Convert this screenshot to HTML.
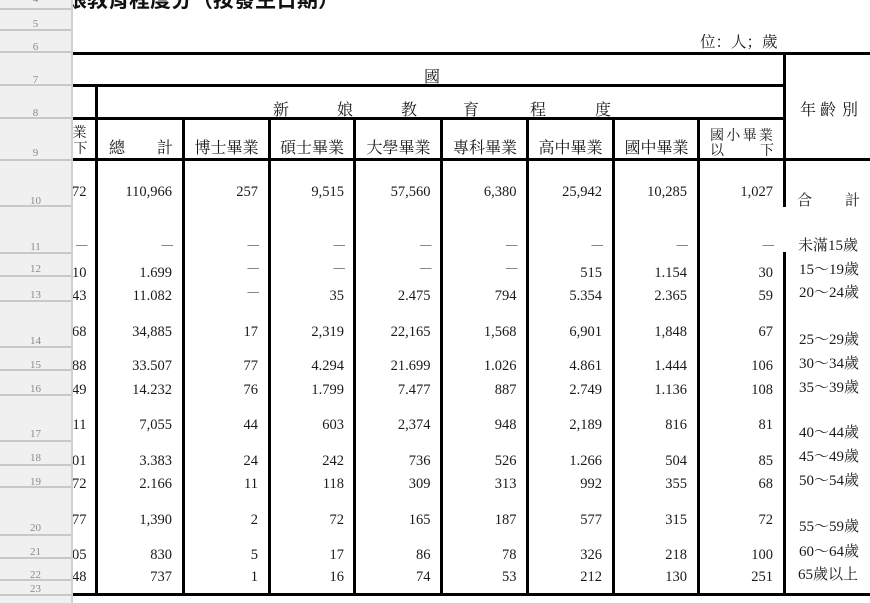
<!DOCTYPE html>
<html><head><meta charset="utf-8">
<style>
body{margin:0;background:#fff;}
#c{position:relative;width:870px;height:603px;overflow:hidden;background:#fff;font-family:"Liberation Serif","Noto Serif CJK SC",serif;color:#1a1a1a;}
.t{position:absolute;white-space:nowrap;line-height:16px;font-size:16px;}
.a{position:absolute;white-space:nowrap;line-height:16px;font-size:15px;}
.n{position:absolute;white-space:nowrap;line-height:16px;font-size:14.5px;text-align:right;}
.d{position:absolute;white-space:nowrap;line-height:12px;font-size:11.5px;text-align:right;color:#333;}
.L{position:absolute;background:#000;}
#p{position:absolute;left:0;top:0;width:71px;height:603px;background:#f0f0f0;border-right:2px solid #d0d0d0;z-index:5;}
.s{position:absolute;left:0;width:71px;height:2px;background:#c8c8c8;}
.r{position:absolute;left:0;width:71px;text-align:center;font-size:11px;line-height:12px;color:#8a8a8a;font-family:"Liberation Serif",serif;}
</style></head><body><div id="c">

<!-- title -->
<div style="position:absolute;left:66px;top:-10px;font-family:'Liberation Sans','Noto Sans CJK TC',sans-serif;font-weight:bold;font-size:21px;line-height:21px;white-space:nowrap;color:#111;">娘教育程度分（按發生日期）</div>

<div class="t" style="left:700px;top:35px;font-size:15.5px;">位：人；歲</div>
<div class="t" style="left:424px;top:69.5px;">國</div>

<!-- row 8 -->
<div class="t" style="left:273px;top:102.5px;">新</div>
<div class="t" style="left:337px;top:102.5px;">娘</div>
<div class="t" style="left:401px;top:102.5px;">教</div>
<div class="t" style="left:463px;top:102.5px;">育</div>
<div class="t" style="left:530px;top:102.5px;">程</div>
<div class="t" style="left:595px;top:102.5px;">度</div>
<div class="t" style="left:800px;top:102.5px;">年</div>
<div class="t" style="left:820px;top:102.5px;">齡</div>
<div class="t" style="left:842px;top:102.5px;">別</div>

<!-- row 9 headers -->
<div class="t" style="left:72.5px;top:126px;font-size:14px;">業</div>
<div class="t" style="left:73.5px;top:142px;font-size:14px;">下</div>
<div class="t" style="left:109px;top:140.5px;">總</div>
<div class="t" style="left:157px;top:140.5px;">計</div>
<div class="t" style="left:185px;width:83px;text-align:center;top:140.5px;">博士畢業</div>
<div class="t" style="left:271px;width:82px;text-align:center;top:140.5px;">碩士畢業</div>
<div class="t" style="left:357px;width:83px;text-align:center;top:140.5px;">大學畢業</div>
<div class="t" style="left:443px;width:84px;text-align:center;top:140.5px;">專科畢業</div>
<div class="t" style="left:529px;width:83px;text-align:center;top:140.5px;">高中畢業</div>
<div class="t" style="left:615px;width:83px;text-align:center;top:140.5px;">國中畢業</div>
<div class="t" style="left:710px;top:129px;font-size:14px;letter-spacing:2.3px;">國小畢業</div>
<div class="t" style="left:710px;top:144px;font-size:14px;">以</div>
<div class="t" style="left:760px;top:144px;font-size:14px;">下</div>

<!-- age labels -->
<div class="a" style="left:797px;top:193px;">合</div>
<div class="a" style="left:845px;top:193px;">計</div>
<div class="a" style="left:798px;top:238px;">未滿15歲</div>
<div class="a" style="left:799px;top:262px;">15～19歲</div>
<div class="a" style="left:799px;top:285px;">20～24歲</div>
<div class="a" style="left:799px;top:332px;">25～29歲</div>
<div class="a" style="left:799px;top:356px;">30～34歲</div>
<div class="a" style="left:799px;top:380px;">35～39歲</div>
<div class="a" style="left:799px;top:425px;">40～44歲</div>
<div class="a" style="left:799px;top:449px;">45～49歲</div>
<div class="a" style="left:799px;top:473px;">50～54歲</div>
<div class="a" style="left:799px;top:519px;">55～59歲</div>
<div class="a" style="left:799px;top:544px;">60～64歲</div>
<div class="a" style="left:798px;top:567px;">65歲以上</div>

<!-- data: row 10 (top 184) -->
<div class="n" style="right:783.5px;top:184px;">72</div>
<div class="n" style="right:698px;top:184px;">110,966</div>
<div class="n" style="right:612px;top:184px;">257</div>
<div class="n" style="right:526px;top:184px;">9,515</div>
<div class="n" style="right:439.5px;top:184px;">57,560</div>
<div class="n" style="right:353.5px;top:184px;">6,380</div>
<div class="n" style="right:268px;top:184px;">25,942</div>
<div class="n" style="right:183px;top:184px;">10,285</div>
<div class="n" style="right:97px;top:184px;">1,027</div>

<!-- row 11 dashes -->
<div class="d" style="right:782.5px;top:238.5px;">—</div>
<div class="d" style="right:697px;top:238.5px;">—</div>
<div class="d" style="right:611px;top:238.5px;">—</div>
<div class="d" style="right:525px;top:238.5px;">—</div>
<div class="d" style="right:438.5px;top:238.5px;">—</div>
<div class="d" style="right:352.5px;top:238.5px;">—</div>
<div class="d" style="right:267px;top:238.5px;">—</div>
<div class="d" style="right:182px;top:238.5px;">—</div>
<div class="d" style="right:96px;top:238.5px;">—</div>

<!-- row 12 (top 265) -->
<div class="n" style="right:783.5px;top:265px;">10</div>
<div class="n" style="right:698px;top:265px;">1.699</div>
<div class="d" style="right:611px;top:261.5px;">—</div>
<div class="d" style="right:525px;top:261.5px;">—</div>
<div class="d" style="right:438.5px;top:261.5px;">—</div>
<div class="d" style="right:352.5px;top:261.5px;">—</div>
<div class="n" style="right:268px;top:265px;">515</div>
<div class="n" style="right:183px;top:265px;">1.154</div>
<div class="n" style="right:97px;top:265px;">30</div>

<!-- row 13 (top 288) -->
<div class="n" style="right:783.5px;top:288px;">43</div>
<div class="n" style="right:698px;top:288px;">11.082</div>
<div class="d" style="right:611px;top:286px;">—</div>
<div class="n" style="right:526px;top:288px;">35</div>
<div class="n" style="right:439.5px;top:288px;">2.475</div>
<div class="n" style="right:353.5px;top:288px;">794</div>
<div class="n" style="right:268px;top:288px;">5.354</div>
<div class="n" style="right:183px;top:288px;">2.365</div>
<div class="n" style="right:97px;top:288px;">59</div>

<!-- row 14 (top 324) -->
<div class="n" style="right:783.5px;top:324px;">68</div>
<div class="n" style="right:698px;top:324px;">34,885</div>
<div class="n" style="right:612px;top:324px;">17</div>
<div class="n" style="right:526px;top:324px;">2,319</div>
<div class="n" style="right:439.5px;top:324px;">22,165</div>
<div class="n" style="right:353.5px;top:324px;">1,568</div>
<div class="n" style="right:268px;top:324px;">6,901</div>
<div class="n" style="right:183px;top:324px;">1,848</div>
<div class="n" style="right:97px;top:324px;">67</div>

<!-- row 15 (top 358) -->
<div class="n" style="right:783.5px;top:358px;">88</div>
<div class="n" style="right:698px;top:358px;">33.507</div>
<div class="n" style="right:612px;top:358px;">77</div>
<div class="n" style="right:526px;top:358px;">4.294</div>
<div class="n" style="right:439.5px;top:358px;">21.699</div>
<div class="n" style="right:353.5px;top:358px;">1.026</div>
<div class="n" style="right:268px;top:358px;">4.861</div>
<div class="n" style="right:183px;top:358px;">1.444</div>
<div class="n" style="right:97px;top:358px;">106</div>

<!-- row 16 (top 382) -->
<div class="n" style="right:783.5px;top:382px;">49</div>
<div class="n" style="right:698px;top:382px;">14.232</div>
<div class="n" style="right:612px;top:382px;">76</div>
<div class="n" style="right:526px;top:382px;">1.799</div>
<div class="n" style="right:439.5px;top:382px;">7.477</div>
<div class="n" style="right:353.5px;top:382px;">887</div>
<div class="n" style="right:268px;top:382px;">2.749</div>
<div class="n" style="right:183px;top:382px;">1.136</div>
<div class="n" style="right:97px;top:382px;">108</div>

<!-- row 17 (top 417) -->
<div class="n" style="right:783.5px;top:417px;">11</div>
<div class="n" style="right:698px;top:417px;">7,055</div>
<div class="n" style="right:612px;top:417px;">44</div>
<div class="n" style="right:526px;top:417px;">603</div>
<div class="n" style="right:439.5px;top:417px;">2,374</div>
<div class="n" style="right:353.5px;top:417px;">948</div>
<div class="n" style="right:268px;top:417px;">2,189</div>
<div class="n" style="right:183px;top:417px;">816</div>
<div class="n" style="right:97px;top:417px;">81</div>

<!-- row 18 (top 453) -->
<div class="n" style="right:783.5px;top:453px;">01</div>
<div class="n" style="right:698px;top:453px;">3.383</div>
<div class="n" style="right:612px;top:453px;">24</div>
<div class="n" style="right:526px;top:453px;">242</div>
<div class="n" style="right:439.5px;top:453px;">736</div>
<div class="n" style="right:353.5px;top:453px;">526</div>
<div class="n" style="right:268px;top:453px;">1.266</div>
<div class="n" style="right:183px;top:453px;">504</div>
<div class="n" style="right:97px;top:453px;">85</div>

<!-- row 19 (top 476) -->
<div class="n" style="right:783.5px;top:476px;">72</div>
<div class="n" style="right:698px;top:476px;">2.166</div>
<div class="n" style="right:612px;top:476px;">11</div>
<div class="n" style="right:526px;top:476px;">118</div>
<div class="n" style="right:439.5px;top:476px;">309</div>
<div class="n" style="right:353.5px;top:476px;">313</div>
<div class="n" style="right:268px;top:476px;">992</div>
<div class="n" style="right:183px;top:476px;">355</div>
<div class="n" style="right:97px;top:476px;">68</div>

<!-- row 20 (top 512) -->
<div class="n" style="right:783.5px;top:512px;">77</div>
<div class="n" style="right:698px;top:512px;">1,390</div>
<div class="n" style="right:612px;top:512px;">2</div>
<div class="n" style="right:526px;top:512px;">72</div>
<div class="n" style="right:439.5px;top:512px;">165</div>
<div class="n" style="right:353.5px;top:512px;">187</div>
<div class="n" style="right:268px;top:512px;">577</div>
<div class="n" style="right:183px;top:512px;">315</div>
<div class="n" style="right:97px;top:512px;">72</div>

<!-- row 21 (top 547) -->
<div class="n" style="right:783.5px;top:547px;">05</div>
<div class="n" style="right:698px;top:547px;">830</div>
<div class="n" style="right:612px;top:547px;">5</div>
<div class="n" style="right:526px;top:547px;">17</div>
<div class="n" style="right:439.5px;top:547px;">86</div>
<div class="n" style="right:353.5px;top:547px;">78</div>
<div class="n" style="right:268px;top:547px;">326</div>
<div class="n" style="right:183px;top:547px;">218</div>
<div class="n" style="right:97px;top:547px;">100</div>

<!-- row 22 (top 569) -->
<div class="n" style="right:783.5px;top:569px;">48</div>
<div class="n" style="right:698px;top:569px;">737</div>
<div class="n" style="right:612px;top:569px;">1</div>
<div class="n" style="right:526px;top:569px;">16</div>
<div class="n" style="right:439.5px;top:569px;">74</div>
<div class="n" style="right:353.5px;top:569px;">53</div>
<div class="n" style="right:268px;top:569px;">212</div>
<div class="n" style="right:183px;top:569px;">130</div>
<div class="n" style="right:97px;top:569px;">251</div>

<!-- lines -->
<div class="L" style="left:73px;top:52px;width:797px;height:3px;"></div>
<div class="L" style="left:73px;top:84px;width:713px;height:3px;"></div>
<div class="L" style="left:73px;top:117px;width:713px;height:3px;"></div>
<div class="L" style="left:73px;top:158px;width:797px;height:3px;"></div>
<div class="L" style="left:73px;top:593px;width:797px;height:3px;"></div>

<div class="L" style="left:95px;top:84px;width:3px;height:512px;"></div>
<div class="L" style="left:182px;top:117px;width:3px;height:479px;"></div>
<div class="L" style="left:268px;top:117px;width:3px;height:479px;"></div>
<div class="L" style="left:353px;top:117px;width:3px;height:479px;"></div>
<div class="L" style="left:440px;top:117px;width:3px;height:479px;"></div>
<div class="L" style="left:526px;top:117px;width:3px;height:479px;"></div>
<div class="L" style="left:612px;top:117px;width:3px;height:479px;"></div>
<div class="L" style="left:697px;top:117px;width:3px;height:479px;"></div>
<div class="L" style="left:783px;top:52px;width:3px;height:155px;"></div>
<div class="L" style="left:783px;top:252px;width:3px;height:344px;"></div>

<!-- row header panel -->
<div id="p">
<div class="s" style="top:8px;"></div>
<div class="s" style="top:29px;"></div>
<div class="s" style="top:51px;"></div>
<div class="s" style="top:84px;"></div>
<div class="s" style="top:117px;"></div>
<div class="s" style="top:158.5px;"></div>
<div class="s" style="top:205px;"></div>
<div class="s" style="top:251.5px;"></div>
<div class="s" style="top:275px;"></div>
<div class="s" style="top:299.5px;"></div>
<div class="s" style="top:345.5px;"></div>
<div class="s" style="top:368.5px;"></div>
<div class="s" style="top:393.5px;"></div>
<div class="s" style="top:440px;"></div>
<div class="s" style="top:463.5px;"></div>
<div class="s" style="top:486px;"></div>
<div class="s" style="top:533.5px;"></div>
<div class="s" style="top:557px;"></div>
<div class="s" style="top:578.5px;"></div>
<div class="s" style="top:593.5px;"></div>
<div class="r" style="top:-7px;">4</div>
<div class="r" style="top:18px;">5</div>
<div class="r" style="top:40.5px;">6</div>
<div class="r" style="top:74px;">7</div>
<div class="r" style="top:106.5px;">8</div>
<div class="r" style="top:147px;">9</div>
<div class="r" style="top:194.5px;">10</div>
<div class="r" style="top:240.5px;">11</div>
<div class="r" style="top:263px;">12</div>
<div class="r" style="top:288.5px;">13</div>
<div class="r" style="top:334.5px;">14</div>
<div class="r" style="top:359px;">15</div>
<div class="r" style="top:383px;">16</div>
<div class="r" style="top:428px;">17</div>
<div class="r" style="top:451.5px;">18</div>
<div class="r" style="top:476px;">19</div>
<div class="r" style="top:522px;">20</div>
<div class="r" style="top:545.5px;">21</div>
<div class="r" style="top:569px;">22</div>
<div class="r" style="top:583px;">23</div>
</div>

</div></body></html>
